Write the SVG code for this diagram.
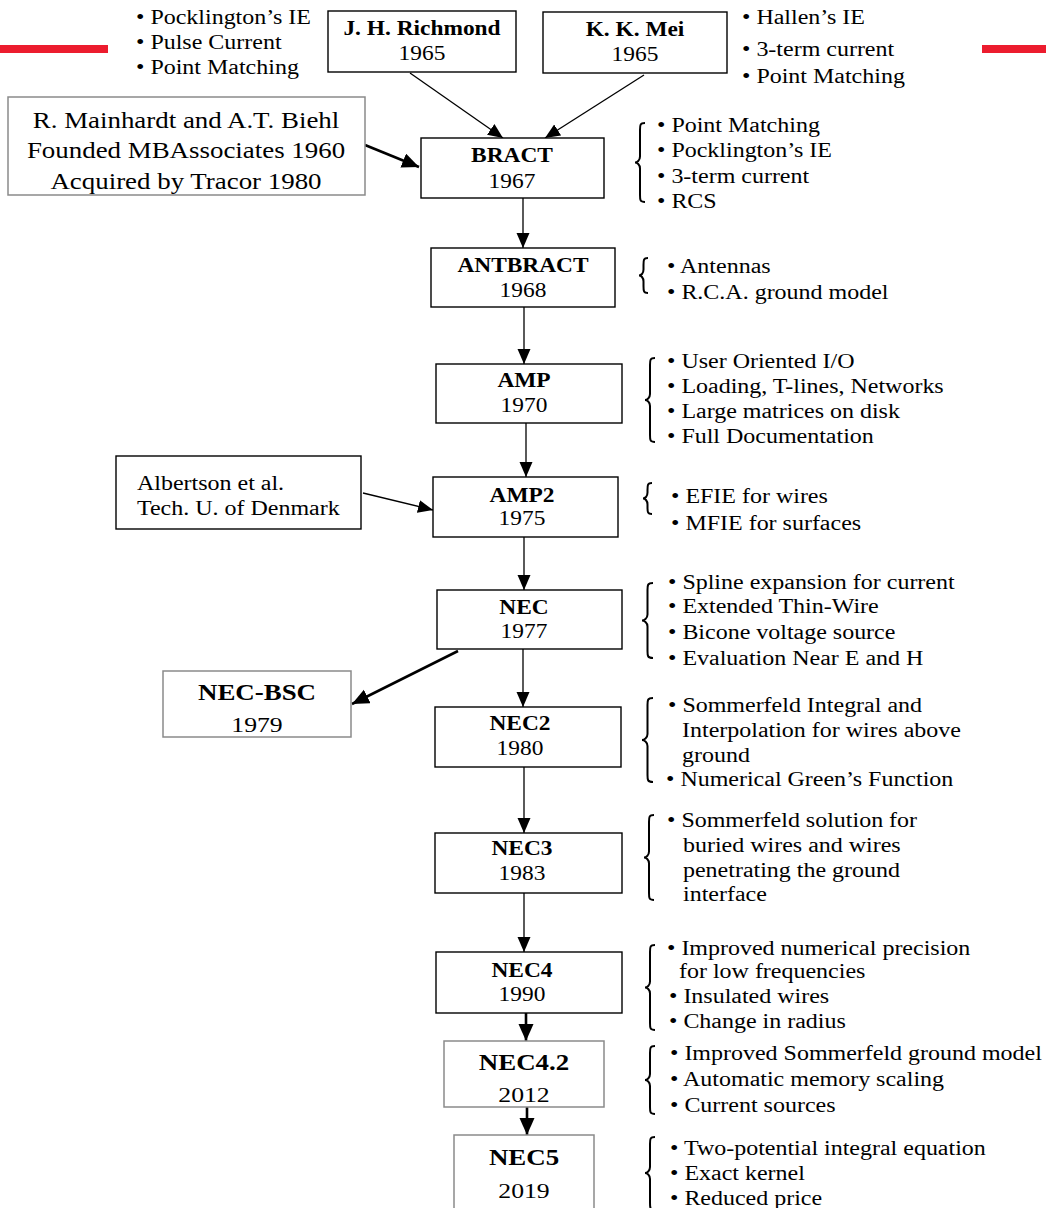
<svg xmlns="http://www.w3.org/2000/svg" width="1046" height="1208" viewBox="0 0 1046 1208">
<style>
.t{font-family:"Liberation Serif","Times New Roman",serif;fill:#000}
.m{text-anchor:middle}
.b{font-weight:bold}
.s20{font-size:20px}
.s21{font-size:20.5px}
.s22{font-size:22px}
.s23{font-size:23px}
.bx{fill:#fff;stroke:#000;stroke-width:1.4}
.gx{fill:#fff;stroke:#8a8a8a;stroke-width:1.5}
.br{fill:none;stroke:#000;stroke-width:2}
.c{fill:none;stroke:#000;stroke-width:1.3}
.ct{fill:none;stroke:#000;stroke-width:2.6}
</style>
<defs>
<marker id="ah" markerUnits="userSpaceOnUse" markerWidth="16" markerHeight="14" refX="15" refY="6.5" orient="auto">
<path d="M0,0 L15,6.5 L0,13 z" fill="#000"/>
</marker>
<marker id="ahb" markerUnits="userSpaceOnUse" markerWidth="18" markerHeight="16" refX="17" refY="7.5" orient="auto">
<path d="M0,0 L17,7.5 L0,15 z" fill="#000"/>
</marker>
</defs>
<rect width="1046" height="1208" fill="#fff"/>
<rect x="0" y="45" width="108" height="8" fill="#ec1c2e"/>
<rect x="982" y="45" width="64" height="8" fill="#ec1c2e"/>

<g id="connectors">
<line class="c" x1="410" y1="73" x2="503" y2="138" marker-end="url(#ah)"/>
<line class="c" x1="644" y1="75" x2="545" y2="138" marker-end="url(#ah)"/>
<line class="ct" x1="365" y1="145" x2="419" y2="167" marker-end="url(#ahb)"/>
<line class="c" x1="523" y1="198" x2="523" y2="248" marker-end="url(#ah)"/>
<line class="c" x1="524" y1="307" x2="524" y2="364" marker-end="url(#ah)"/>
<line class="c" x1="526" y1="423" x2="526" y2="477" marker-end="url(#ah)"/>
<line class="c" x1="363" y1="493" x2="433" y2="510" marker-end="url(#ah)"/>
<line class="c" x1="524" y1="537" x2="524" y2="590" marker-end="url(#ah)"/>
<line class="ct" x1="458" y1="651" x2="352" y2="704" marker-end="url(#ahb)"/>
<line class="c" x1="523" y1="649" x2="523" y2="707" marker-end="url(#ah)"/>
<line class="c" x1="524" y1="767" x2="524" y2="833" marker-end="url(#ah)"/>
<line class="c" x1="524" y1="893" x2="524" y2="952" marker-end="url(#ah)"/>
<line class="ct" x1="526" y1="1013" x2="526" y2="1041" marker-end="url(#ahb)"/>
<line class="ct" x1="527" y1="1107" x2="527" y2="1135" marker-end="url(#ahb)"/>
</g>

<g id="notes-top">
<text class="t s21" transform="translate(136,24) scale(1.17,1)">• Pocklington’s IE</text>
<text class="t s21" transform="translate(136,49) scale(1.17,1)">• Pulse Current</text>
<text class="t s21" transform="translate(136,74) scale(1.17,1)">• Point Matching</text>
<text class="t s21" transform="translate(742,24) scale(1.17,1)">• Hallen’s IE</text>
<text class="t s21" transform="translate(742,56) scale(1.17,1)">• 3-term current</text>
<text class="t s21" transform="translate(742,83) scale(1.17,1)">• Point Matching</text>
</g>

<g id="richmond">
<rect class="bx" x="328" y="11" width="188" height="61"/>
<text class="t m b s20" transform="translate(422,35) scale(1.17,1)">J. H. Richmond</text>
<text class="t m s20" transform="translate(422,60) scale(1.17,1)">1965</text>
</g>
<g id="mei">
<rect class="bx" x="543" y="12" width="184" height="61"/>
<text class="t m b s20" transform="translate(635,36) scale(1.17,1)">K. K. Mei</text>
<text class="t m s20" transform="translate(635,61) scale(1.17,1)">1965</text>
</g>
<g id="mainhardt">
<rect class="gx" x="8" y="97" width="357" height="98"/>
<text class="t m s23" transform="translate(186,128) scale(1.17,1)">R. Mainhardt and A.T. Biehl</text>
<text class="t m s23" transform="translate(186,158) scale(1.17,1)">Founded MBAssociates 1960</text>
<text class="t m s23" transform="translate(186,189) scale(1.17,1)">Acquired by Tracor 1980</text>
</g>
<g id="bract">
<rect class="bx" x="421" y="138" width="183" height="60"/>
<text class="t m b s20" transform="translate(512,162) scale(1.17,1)">BRACT</text>
<text class="t m s20" transform="translate(512,188) scale(1.17,1)">1967</text>
<path class="br" d="M645,123 C640,123 640,125 640,130 L640,156.5 C640,160.5 637,162.5 635,162.5 C637,162.5 640,164.5 640,168.5 L640,195 C640,200 640,202 645,202"/>
<text class="t s21" transform="translate(657,132) scale(1.17,1)">• Point Matching</text>
<text class="t s21" transform="translate(657,157) scale(1.17,1)">• Pocklington’s IE</text>
<text class="t s21" transform="translate(657,183) scale(1.17,1)">• 3-term current</text>
<text class="t s21" transform="translate(657,208) scale(1.17,1)">• RCS</text>
</g>
<g id="antbract">
<rect class="bx" x="431" y="248" width="184" height="59"/>
<text class="t m b s20" transform="translate(523,272) scale(1.17,1)">ANTBRACT</text>
<text class="t m s20" transform="translate(523,297) scale(1.17,1)">1968</text>
<path class="br" d="M648,258 C643.5,258 643.5,260 643.5,265 L643.5,269.5 C643.5,273.5 641,275.5 639,275.5 C641,275.5 643.5,277.5 643.5,281.5 L643.5,286 C643.5,291 643.5,293 648,293"/>
<text class="t s21" transform="translate(667,273) scale(1.17,1)">• Antennas</text>
<text class="t s21" transform="translate(667,299) scale(1.17,1)">• R.C.A. ground model</text>
</g>
<g id="amp">
<rect class="bx" x="436" y="364" width="186" height="59"/>
<text class="t m b s20" transform="translate(524,387) scale(1.17,1)">AMP</text>
<text class="t m s20" transform="translate(524,412) scale(1.17,1)">1970</text>
<path class="br" d="M655,358 C650,358 650,360 650,365 L650,394 C650,398 647,400 645,400 C647,400 650,402 650,406 L650,435 C650,440 650,442 655,442"/>
<text class="t s21" transform="translate(667,368) scale(1.17,1)">• User Oriented I/O</text>
<text class="t s21" transform="translate(667,393) scale(1.17,1)">• Loading, T-lines, Networks</text>
<text class="t s21" transform="translate(667,418) scale(1.17,1)">• Large matrices on disk</text>
<text class="t s21" transform="translate(667,443) scale(1.17,1)">• Full Documentation</text>
</g>
<g id="albertson">
<rect class="bx" x="116" y="456" width="245" height="73"/>
<text class="t s21" transform="translate(137,490) scale(1.17,1)">Albertson et al.</text>
<text class="t s21" transform="translate(137,515) scale(1.17,1)">Tech. U. of Denmark</text>
</g>
<g id="amp2">
<rect class="bx" x="433" y="477" width="185" height="60"/>
<text class="t m b s20" transform="translate(522,502) scale(1.17,1)">AMP2</text>
<text class="t m s20" transform="translate(522,525) scale(1.17,1)">1975</text>
<path class="br" d="M652,483 C647.5,483 647.5,485 647.5,490 L647.5,492.5 C647.5,496.5 645,498.5 643,498.5 C645,498.5 647.5,500.5 647.5,504.5 L647.5,507 C647.5,512 647.5,514 652,514"/>
<text class="t s21" transform="translate(671,503) scale(1.17,1)">• EFIE for wires</text>
<text class="t s21" transform="translate(671,530) scale(1.17,1)">• MFIE for surfaces</text>
</g>
<g id="nec">
<rect class="bx" x="437" y="590" width="185" height="59"/>
<text class="t m b s20" transform="translate(524,614) scale(1.17,1)">NEC</text>
<text class="t m s20" transform="translate(524,638) scale(1.17,1)">1977</text>
<path class="br" d="M653,583 C647.5,583 647.5,585 647.5,590 L647.5,614.5 C647.5,618.5 644,620.5 642,620.5 C644,620.5 647.5,622.5 647.5,626.5 L647.5,651 C647.5,656 647.5,658 653,658"/>
<text class="t s21" transform="translate(668,589) scale(1.17,1)">• Spline expansion for current</text>
<text class="t s21" transform="translate(668,613) scale(1.17,1)">• Extended Thin-Wire</text>
<text class="t s21" transform="translate(668,639) scale(1.17,1)">• Bicone voltage source</text>
<text class="t s21" transform="translate(668,665) scale(1.17,1)">• Evaluation Near E and H</text>
</g>
<g id="nec-bsc">
<rect class="gx" x="163" y="671" width="188" height="66"/>
<text class="t m b s23" transform="translate(257,700) scale(1.17,1)">NEC-BSC</text>
<text class="t m s22" transform="translate(257,732) scale(1.17,1)">1979</text>
</g>
<g id="nec2">
<rect class="bx" x="435" y="707" width="186" height="60"/>
<text class="t m b s20" transform="translate(520,730) scale(1.17,1)">NEC2</text>
<text class="t m s20" transform="translate(520,755) scale(1.17,1)">1980</text>
<path class="br" d="M653,698 C647.5,698 647.5,700 647.5,705 L647.5,734 C647.5,738 644,740 642,740 C644,740 647.5,742 647.5,746 L647.5,775 C647.5,780 647.5,782 653,782"/>
<text class="t s21" transform="translate(668,712) scale(1.17,1)">• Sommerfeld  Integral and</text>
<text class="t s21" transform="translate(682,737) scale(1.17,1)">Interpolation for wires above</text>
<text class="t s21" transform="translate(682,762) scale(1.17,1)">ground</text>
<text class="t s21" transform="translate(666,786) scale(1.17,1)">• Numerical Green’s Function</text>
</g>
<g id="nec3">
<rect class="bx" x="435" y="833" width="187" height="60"/>
<text class="t m b s20" transform="translate(522,855) scale(1.17,1)">NEC3</text>
<text class="t m s20" transform="translate(522,880) scale(1.17,1)">1983</text>
<path class="br" d="M654,815 C649,815 649,817 649,822 L649,851.5 C649,855.5 646,857.5 644,857.5 C646,857.5 649,859.5 649,863.5 L649,893 C649,898 649,900 654,900"/>
<text class="t s21" transform="translate(667,827) scale(1.17,1)">• Sommerfeld solution for</text>
<text class="t s21" transform="translate(683,852) scale(1.17,1)">buried wires and wires</text>
<text class="t s21" transform="translate(683,877) scale(1.17,1)">penetrating the ground</text>
<text class="t s21" transform="translate(683,901) scale(1.17,1)">interface</text>
</g>
<g id="nec4">
<rect class="bx" x="436" y="952" width="186" height="61"/>
<text class="t m b s20" transform="translate(522,977) scale(1.17,1)">NEC4</text>
<text class="t m s20" transform="translate(522,1001) scale(1.17,1)">1990</text>
<path class="br" d="M655,945 C650,945 650,947 650,952 L650,981.5 C650,985.5 647,987.5 645,987.5 C647,987.5 650,989.5 650,993.5 L650,1023 C650,1028 650,1030 655,1030"/>
<text class="t s21" transform="translate(667,955) scale(1.17,1)">• Improved numerical precision</text>
<text class="t s21" transform="translate(679,978) scale(1.17,1)">for low frequencies</text>
<text class="t s21" transform="translate(669,1003) scale(1.17,1)">• Insulated wires</text>
<text class="t s21" transform="translate(669,1028) scale(1.17,1)">• Change in radius</text>
</g>
<g id="nec42">
<rect class="gx" x="444" y="1041" width="160" height="66"/>
<text class="t m b s23" transform="translate(524,1070) scale(1.17,1)">NEC4.2</text>
<text class="t m s22" transform="translate(524,1102) scale(1.17,1)">2012</text>
<path class="br" d="M655,1046 C650,1046 650,1048 650,1053 L650,1074 C650,1078 647,1080 645,1080 C647,1080 650,1082 650,1086 L650,1107 C650,1112 650,1114 655,1114"/>
<text class="t s21" transform="translate(670,1060) scale(1.17,1)">•  Improved Sommerfeld ground model</text>
<text class="t s21" transform="translate(670,1086) scale(1.17,1)">•  Automatic memory scaling</text>
<text class="t s21" transform="translate(670,1112) scale(1.17,1)">•  Current sources</text>
</g>
<g id="nec5">
<rect class="gx" x="454" y="1135" width="140" height="85"/>
<text class="t m b s23" transform="translate(524,1165) scale(1.17,1)">NEC5</text>
<text class="t m s22" transform="translate(524,1198) scale(1.17,1)">2019</text>
<path class="br" d="M655,1137 C650,1137 650,1139 650,1144 L650,1167 C650,1171 647,1173 645,1173 C647,1173 650,1175 650,1179 L650,1203 C650,1208 650,1210 655,1210"/>
<text class="t s21" transform="translate(670,1155) scale(1.17,1)">•  Two-potential integral equation</text>
<text class="t s21" transform="translate(670,1180) scale(1.17,1)">•  Exact kernel</text>
<text class="t s21" transform="translate(670,1205) scale(1.17,1)">•  Reduced price</text>
</g>
</svg>
